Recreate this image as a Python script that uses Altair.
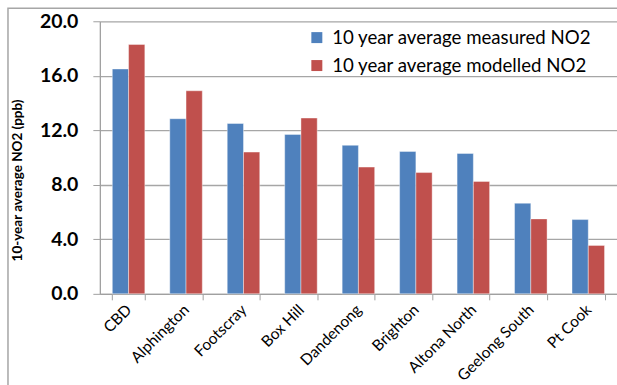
import altair as alt
import pandas as pd

sites = ["CBD", "Alphington", "Footscray", "Box Hill", "Dandenong",
         "Brighton", "Altona North", "Geelong South", "Pt Cook"]
measured = [16.5, 12.85, 12.5, 11.7, 10.9, 10.45, 10.3, 6.65, 5.45]
modelled = [18.3, 14.9, 10.4, 12.9, 9.3, 8.9, 8.25, 5.5, 3.55]
series = ["10 year average measured NO2", "10 year average modelled NO2"]
colors = ["#4F81BD", "#C0504D"]
y_ticks = [0, 4, 8, 12, 16, 20]

rows = []
for i, s in enumerate(sites):
    rows.append({"site": s, "series": series[0], "value": measured[i]})
    rows.append({"site": s, "series": series[1], "value": modelled[i]})
df = pd.DataFrame(rows)

frame = alt.Chart(pd.DataFrame({"a": [0]})).mark_rect(
    fill=None, stroke="#A6A6A6", strokeWidth=1.5
).encode(
    x=alt.value(-92), x2=alt.value(560), y=alt.value(-13), y2=alt.value(400)
)

bars = alt.Chart(df).mark_bar(strokeWidth=0.8, strokeOpacity=0.5, stroke="#ffffff").encode(
    x=alt.X("site:N", sort=sites, title=None,
            scale=alt.Scale(paddingInner=0.434, paddingOuter=0.217),
            axis=alt.Axis(labelAngle=-45, labelFont="Lato", labelFontSize=15.5,
                          labelColor="#000000", labelPadding=7,
                          labelAlign="right", labelBaseline="middle",
                          tickBand="extent", tickSize=6, tickColor="#A0A0A0",
                          domainColor="#A0A0A0", domainWidth=1.3, grid=False)),
    xOffset=alt.XOffset("series:N", sort=series, scale=alt.Scale(paddingInner=0, paddingOuter=0)),
    y=alt.Y("value:Q", scale=alt.Scale(domain=[0, 20], nice=False),
            axis=alt.Axis(values=y_ticks, format=".1f", title="10-year average NO2 (ppb)",
                          labelFont="Lato", labelFontSize=19.5, labelFontWeight="bold",
                          labelColor="#000000", labelPadding=15,
                          tickSize=7, tickColor="#A0A0A0", domainColor="#A0A0A0",
                          domainWidth=1.3, gridColor="#A6A6A6", gridWidth=1.3,
                          titleFont="Lato", titleFontSize=13.5, titleFontWeight="bold",
                          titleColor="#000000", titleAngle=270, titleX=-82, titleY=159,
                          titleAlign="center", titleBaseline="middle")),
    color=alt.Color("series:N", sort=series, scale=alt.Scale(domain=series, range=colors),
                    legend=alt.Legend(title=None, orient="none", legendX=208, legendY=7,
                                      labelFont="Lato", labelFontSize=18.7, labelColor="#000000",
                                      symbolType="square", symbolSize=121, symbolStrokeWidth=0,
                                      rowPadding=8, labelOffset=6, labelLimit=400)),
)

chart = alt.layer(frame, bars).properties(
    width=518, height=273,
    autosize=alt.AutoSizeParams(type="none"),
    padding={"left": 100, "top": 21, "right": 0, "bottom": 91},
    background="#ffffff",
).configure_view(stroke=None)

chart.save("out.html", embed_options={"renderer": "svg", "actions": False})
